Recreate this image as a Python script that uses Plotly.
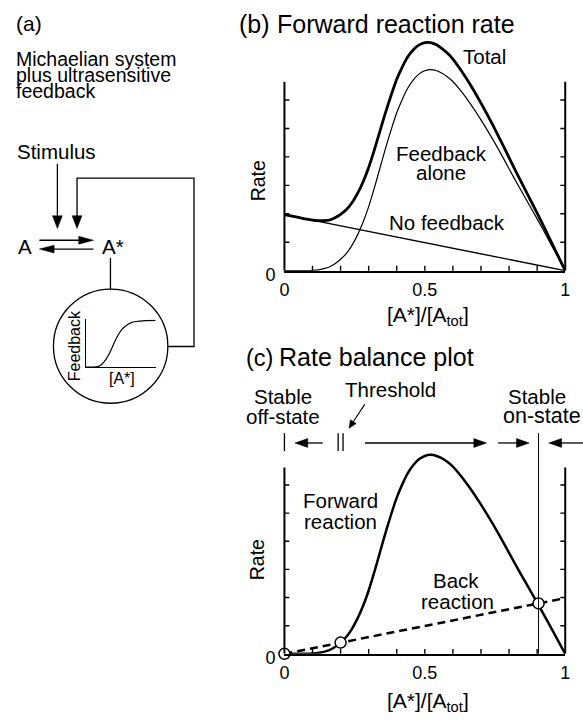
import plotly.graph_objects as go

W, H = 583, 725
FONT = "Liberation Sans, Arial, Helvetica, sans-serif"

# ---------------- data ----------------
x_grid = [0, 0.05, 0.08, 0.10, 0.12, 0.14, 0.16, 0.18, 0.20, 0.22, 0.24, 0.26, 0.28,
          0.30, 0.32, 0.34, 0.36, 0.38, 0.40, 0.42, 0.44, 0.46, 0.48, 0.50, 0.52,
          0.54, 0.56, 0.58, 0.60, 0.63, 0.66, 0.70, 0.74, 0.78, 0.82, 0.86, 0.90,
          0.94, 0.97, 1.00]
feedback_alone = [0, 0, 0, 0.01, 0.03, 0.07, 0.13, 0.24, 0.40, 0.60, 0.88, 1.25, 1.70,
                  2.25, 2.90, 3.60, 4.30, 4.95, 5.55, 6.03, 6.43, 6.72, 6.92, 7.03, 7.07,
                  7.04, 6.95, 6.82, 6.65, 6.30, 5.90, 5.30, 4.65, 3.95, 3.22, 2.52, 1.82,
                  1.10, 0.55, 0]
total_rate = [1.97, 1.87, 1.81, 1.78, 1.76, 1.76, 1.78, 1.86, 1.98, 2.14, 2.38, 2.71, 3.12,
              3.63, 4.24, 4.90, 5.56, 6.17, 6.73, 7.17, 7.53, 7.78, 7.94, 8.02, 8.02,
              7.95, 7.82, 7.65, 7.44, 7.03, 6.57, 5.89, 5.16, 4.38, 3.57, 2.80, 2.02,
              1.22, 0.61, 0]
no_feedback_x = [0, 1]
no_feedback_y = [1.97, 0]

back_x = [0, 1]
back_y = [0, 1.98]
steady_x = [0, 0.2, 0.905]      # off-state, threshold, on-state
steady_y = [0, 0.40, 1.79]

inset_x = [0, 0.12, 0.20, 0.28, 0.34, 0.40, 0.46, 0.52, 0.58, 0.65, 0.72, 0.85, 1.0]
inset_y = [0, 0, 0.03, 0.15, 0.30, 0.50, 0.68, 0.81, 0.89, 0.95, 0.975, 0.995, 1.0]

x_labels = [0, 0.5, 1]
x_label_text = ["0", "0.5", "1"]
x_tick_marks = [0.1, 0.2, 0.3, 0.4, 0.5, 0.6, 0.7, 0.8, 0.9]
y_labels = [0]
y_label_text = ["0"]
y_tick_marks = [1, 2, 3, 4, 5, 6]

# ---------------- geometry (pixels) ----------------
def px(x):
    return x / W


def py(y):
    return 1 - y / H


X0, X1 = 284.3, 570.0
B_BASE, B_UNIT, B_YMAX, B_AXTOP = 276.0, 29.0, 8.6, 6.64
C_BASE, C_UNIT, C_YMAX, C_AXTOP = 666.7, 28.7, 8.2, 6.62
TICK = 5


def dx(v):  # data x -> pixel (for decorations placed over panel c)
    return X0 + v * (X1 - X0)


xdom = [px(X0), px(X1)]
b_dom = [py(B_BASE), py(B_BASE - B_UNIT * B_YMAX)]
c_dom = [py(C_BASE), py(C_BASE - C_UNIT * C_YMAX)]

fig = go.Figure()

# panel b
fig.add_trace(go.Scatter(x=x_grid, y=total_rate, mode="lines", xaxis="x", yaxis="y",
                         line=dict(color="black", width=2.8, shape="spline", smoothing=0.6)))
fig.add_trace(go.Scatter(x=x_grid, y=feedback_alone, mode="lines", xaxis="x", yaxis="y",
                         line=dict(color="black", width=1.2, shape="spline", smoothing=0.6)))
fig.add_trace(go.Scatter(x=no_feedback_x, y=no_feedback_y, mode="lines", xaxis="x", yaxis="y",
                         line=dict(color="black", width=1.4)))
# panel c
fig.add_trace(go.Scatter(x=x_grid, y=feedback_alone, mode="lines", xaxis="x3", yaxis="y3",
                         line=dict(color="black", width=2.5, shape="spline", smoothing=0.6)))
fig.add_trace(go.Scatter(x=back_x, y=back_y, mode="lines", xaxis="x3", yaxis="y3",
                         line=dict(color="black", width=2.5, dash="8px,5px")))
fig.add_trace(go.Scatter(x=steady_x, y=steady_y, mode="markers", xaxis="x3", yaxis="y3",
                         cliponaxis=False,
                         marker=dict(size=11, color="white", line=dict(color="black", width=1.5))))
# inset in panel a
fig.add_trace(go.Scatter(x=inset_x, y=inset_y, mode="lines", xaxis="x5", yaxis="y5",
                         line=dict(color="black", width=1.2, shape="spline", smoothing=0.8)))

tickfont = dict(family=FONT, size=18, color="black")
xax = dict(range=[0, 1], showline=True, linewidth=2, linecolor="black", ticks="",
           tickvals=x_labels, ticktext=x_label_text,
           tickfont=tickfont, showgrid=False, zeroline=False, fixedrange=True,
           ticklabelstandoff=2)
yl = dict(showline=False, ticks="", tickvals=y_labels, ticktext=y_label_text,
          tickfont=tickfont, showgrid=False, zeroline=False, fixedrange=True,
          ticklabelstandoff=8, ticklabelshift=4)

fig.update_layout(
    width=W, height=H, margin=dict(l=0, r=0, t=0, b=0),
    paper_bgcolor="white", plot_bgcolor="white", showlegend=False,
    font=dict(family=FONT, color="black"),
    xaxis=dict(domain=xdom, anchor="y", **xax),
    yaxis=dict(domain=b_dom, anchor="x", range=[0, B_YMAX], **yl),
    xaxis3=dict(domain=xdom, anchor="y3", **xax),
    yaxis3=dict(domain=c_dom, anchor="x3", range=[0, C_YMAX], **yl),
    xaxis5=dict(domain=[px(82.3), px(153.3)], anchor="y5", range=[0, 1], showline=True,
                linewidth=1.2, linecolor="black", showticklabels=False, ticks="",
                showgrid=False, zeroline=False, fixedrange=True),
    yaxis5=dict(domain=[py(374.3), py(325.7)], anchor="x5", range=[0, 1.02], showline=True,
                linewidth=1.2, linecolor="black", showticklabels=False, ticks="",
                showgrid=False, zeroline=False, fixedrange=True),
)

shapes = []


def seg(x0, y0, x1, y1, w=1.3):
    shapes.append(dict(type="line", xref="paper", yref="paper", x0=px(x0), y0=py(y0),
                       x1=px(x1), y1=py(y1), line=dict(color="black", width=w)))


def path(points, w=1.3, closed=False):
    d = "M " + " L ".join(f"{px(a):.5f},{py(b):.5f}" for a, b in points)
    if closed:
        d += " Z"
        shapes.append(dict(type="path", xref="paper", yref="paper", path=d,
                           fillcolor="black", line=dict(color="black", width=0.5)))
    else:
        shapes.append(dict(type="path", xref="paper", yref="paper", path=d,
                           line=dict(color="black", width=w)))


def head(tx, ty, ux, uy, length=13, half=4.5):
    bx, by = tx - ux * length, ty - uy * length
    nx, ny = -uy, ux
    path([(tx, ty), (bx + nx * half, by + ny * half), (bx - nx * half, by - ny * half)],
         closed=True)


def arrow(x0, y0, x1, y1, length=13, half=4.5, w=1.3):
    L = ((x1 - x0) ** 2 + (y1 - y0) ** 2) ** 0.5
    ux, uy = (x1 - x0) / L, (y1 - y0) / L
    seg(x0, y0, x1 - ux * (length - 1), y1 - uy * (length - 1), w)
    head(x1, y1, ux, uy, length, half)


# axis frame lines + inward tick marks of panels b and c (positions through the axes)
for xref, yref, base, top in (("x", "y", B_BASE, B_AXTOP), ("x3", "y3", C_BASE, C_AXTOP)):
    for xx in (X0, X1):
        shapes.append(dict(type="line", xref="paper", yref=yref, x0=px(xx), x1=px(xx),
                           y0=0, y1=top, line=dict(color="black", width=2)))
    for v in y_tick_marks:
        shapes.append(dict(type="line", xref="paper", yref=yref, x0=px(X0), x1=px(X0 + TICK),
                           y0=v, y1=v, line=dict(color="black", width=1.4)))
        shapes.append(dict(type="line", xref="paper", yref=yref, x0=px(X1 - TICK), x1=px(X1),
                           y0=v, y1=v, line=dict(color="black", width=1.4)))
    for v in x_tick_marks:
        shapes.append(dict(type="line", xref=xref, yref="paper", x0=v, x1=v,
                           y0=py(base), y1=py(base - TICK), line=dict(color="black", width=1.4)))

# ----- panel a diagram -----
arrow(53.3, 167, 53.3, 233, length=13, half=5)
path([(73.3, 222), (73.3, 181.7), (192.3, 181.7), (192.3, 353.3), (165.7, 353.3)])
head(73.3, 233, 0, 1, length=13, half=5)
arrow(35, 245, 90, 245, length=15, half=4)
arrow(90, 254, 35, 254, length=15, half=4)
seg(107.3, 263, 107.3, 295)
shapes.append(dict(type="circle", xref="paper", yref="paper",
                   x0=px(107.5 - 58.2), x1=px(107.5 + 58.2),
                   y0=py(353 + 58.2), y1=py(353 - 58.2),
                   line=dict(color="black", width=1.3)))

# ----- panel c top row -----
ROW = 451.7
seg(dx(0), 441.7, dx(0), 460)
arrow(dx(0.1365), ROW, dx(0.0375), ROW)
seg(dx(steady_x[1]) - 2.5, 441.7, dx(steady_x[1]) - 2.5, 460)
seg(dx(steady_x[1]) + 2.5, 441.7, dx(steady_x[1]) + 2.5, 460)
arrow(dx(0.287), ROW, dx(0.72), ROW)
arrow(dx(0.761), ROW, dx(0.872), ROW)
arrow(592, ROW, dx(0.9415), ROW)
seg(dx(steady_x[2]), 441.7, dx(steady_x[2]), C_BASE, w=1.0)
arrow(366, 412.3, 350, 436.7, length=8, half=3.5, w=1.1)

fig.update_layout(shapes=shapes)

ann = []


def txt(s, x, base, size, anchor="center", shift=0.0):
    ann.append(dict(text=s, x=px(x), y=py(base - 0.3465 * size + shift), xref="paper",
                    yref="paper", xanchor=anchor, yanchor="middle", showarrow=False,
                    borderpad=0, borderwidth=0,
                    font=dict(family=FONT, size=size, color="black")))


def vtxt(s, x, yc, size):
    ann.append(dict(text=s, x=px(x), y=py(yc), xref="paper", yref="paper", textangle=-90,
                    xanchor="center", yanchor="middle", showarrow=False,
                    borderpad=0, borderwidth=0,
                    font=dict(family=FONT, size=size, color="black")))


# panel a
txt("(a)", 11.7, 31, 21, "left")
txt("Michaelian system", 11.7, 66.7, 19.5, "left")
txt("plus ultrasensitive", 11.7, 83.5, 19.5, "left")
txt("feedback", 11.7, 100, 19.5, "left")
txt("Stimulus", 52.5, 161.7, 20.5)
txt("A", 20.8, 258.3, 20.5)
txt("A*", 98.3, 258.3, 20.5, "left")
vtxt("Feedback", 70.8, 352.5, 16)
txt("[A*]", 119, 391, 16)

# panel b
txt("(b)", 238, 33.3, 25, "left")
txt("Forward reaction rate", 276.7, 33.3, 25, "left")
txt("Total", 488, 65, 20.5)
txt("Feedback", 444, 163.3, 20.5)
txt("alone", 444, 183.3, 20.5)
txt("No feedback", 450, 234.3, 20.5)
vtxt("Rate", 258.3, 184, 19.5)
txt("[A*]/[A<sub>tot</sub>]", 430, 325.5, 21, shift=4)

# panel c
txt("(c)", 245, 372.7, 23.5, "left")
txt("Rate balance plot", 278.3, 372.7, 25, "left")
txt("Stable", 282.5, 411.7, 20.5)
txt("off-state", 283, 431.7, 20.5)
txt("Threshold", 392.7, 404.3, 20.5)
txt("Stable", 541, 411.7, 20.5)
txt("on-state", 507, 431.7, 21.5, "left")
txt("Forward", 341.3, 517.3, 20.5)
txt("reaction", 341, 539.3, 20.5)
txt("Back", 459, 599, 20.5)
txt("reaction", 460, 620, 20.5)
vtxt("Rate", 256.7, 571, 19.5)
txt("[A*]/[A<sub>tot</sub>]", 430, 719.5, 21, shift=4)

fig.update_layout(annotations=ann)

fig.write_html("out.html", config={"displayModeBar": False})
